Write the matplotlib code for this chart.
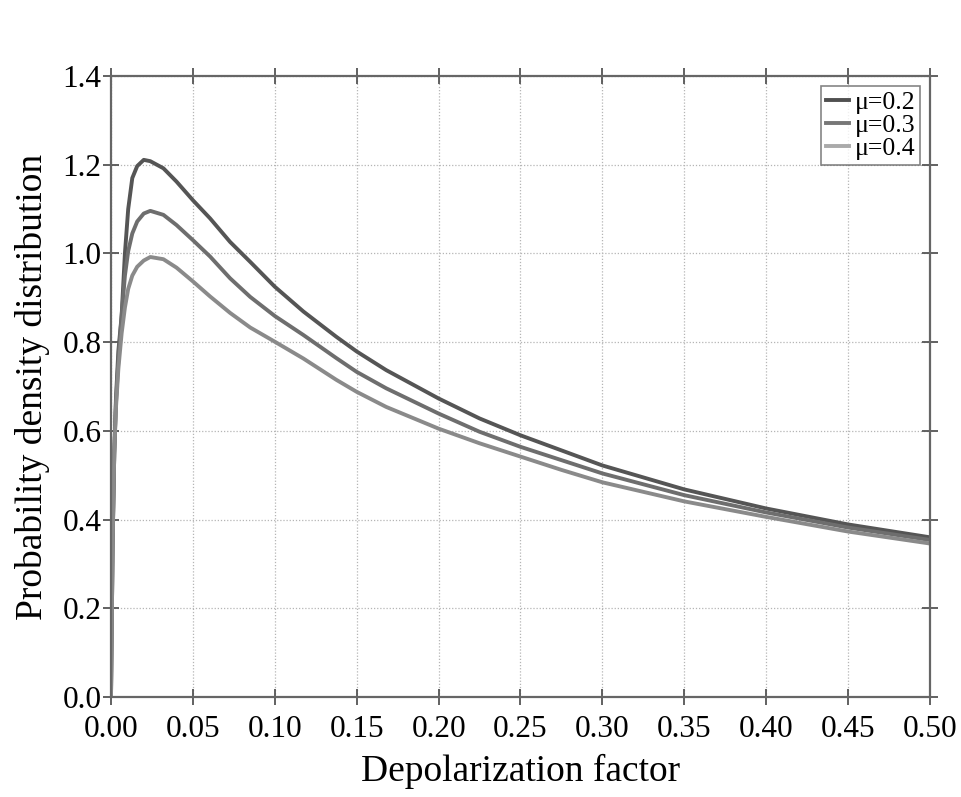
import matplotlib
matplotlib.use("Agg")
import matplotlib.pyplot as plt
from matplotlib.ticker import FormatStrFormatter

# Data
x = [0, 0.001, 0.002, 0.003, 0.0045, 0.0065, 0.0085, 0.0105, 0.013, 0.016,
     0.02, 0.024, 0.032, 0.040, 0.050, 0.0605, 0.0727, 0.085, 0.1, 0.1175,
     0.1376, 0.15, 0.168, 0.2, 0.225, 0.25, 0.275, 0.3, 0.35, 0.4, 0.45, 0.5]
y_mu02 = [0, 0.35, 0.55, 0.67, 0.78, 0.86, 1.00, 1.10, 1.17, 1.197, 1.211,
          1.208, 1.192, 1.162, 1.12, 1.079, 1.026, 0.981, 0.925, 0.869,
          0.812, 0.779, 0.737, 0.673, 0.628, 0.590, 0.556, 0.522, 0.468,
          0.425, 0.389, 0.360]
y_mu03 = [0, 0.35, 0.55, 0.66, 0.76, 0.86, 0.95, 1.005, 1.045, 1.072, 1.09,
          1.096, 1.087, 1.064, 1.030, 0.993, 0.944, 0.902, 0.859, 0.816,
          0.764, 0.733, 0.696, 0.639, 0.598, 0.564, 0.534, 0.504, 0.455,
          0.416, 0.382, 0.354]
y_mu04 = [0, 0.35, 0.55, 0.65, 0.74, 0.82, 0.878, 0.92, 0.95, 0.970, 0.984,
          0.992, 0.987, 0.968, 0.937, 0.903, 0.866, 0.833, 0.801, 0.763,
          0.715, 0.688, 0.654, 0.605, 0.572, 0.542, 0.512, 0.484, 0.441,
          0.406, 0.373, 0.346]
labels = ["\u03bc=0.2", "\u03bc=0.3", "\u03bc=0.4"]
xticks = [0.00, 0.05, 0.10, 0.15, 0.20, 0.25, 0.30, 0.35, 0.40, 0.45, 0.50]
yticks = [0.0, 0.2, 0.4, 0.6, 0.8, 1.0, 1.2, 1.4]

plt.rcParams['font.family'] = ['Liberation Serif', 'DejaVu Serif']

fig = plt.figure(figsize=(9.61, 7.97), dpi=100)
ax = fig.add_axes([0.1155, 0.1255, 0.8522, 0.7791])

colors = ['#555555', '#6e6e6e', '#8a8a8a']
for ys, lab, c in zip([y_mu02, y_mu03, y_mu04], labels, colors):
    ax.plot(x, ys, color=c, lw=2.8, label=lab, solid_joinstyle='round')

ax.set_xlim(0, 0.5)
ax.set_ylim(0, 1.4)
ax.set_xticks(xticks)
ax.set_yticks(yticks)
ax.xaxis.set_major_formatter(FormatStrFormatter('%.2f'))
ax.yaxis.set_major_formatter(FormatStrFormatter('%.1f'))
ax.tick_params(direction='inout', length=12, width=1.3, color='#555555',
               labelsize=22.5, top=True, right=True)
ax.tick_params(axis='x', pad=7)
ax.tick_params(axis='y', pad=1)
ax.grid(True, linestyle=(0, (1, 1.5)), color='#b5b5b5', linewidth=0.9)
for s in ax.spines.values():
    s.set_color('#666666')
    s.set_linewidth(1.6)

ax.set_xlabel('Depolarization factor', fontsize=27, labelpad=7)
ax.set_ylabel('Probability density distribution', fontsize=27, labelpad=9)

leg = ax.legend(loc='upper right', fontsize=18.5, frameon=True, fancybox=False,
                edgecolor='#666666', handlelength=0.9, handletextpad=0.2,
                labelspacing=0.0, borderpad=0.2, borderaxespad=0.38)
leg.get_frame().set_linewidth(1.2)
leg.legend_handles[0].set_color('#505050')
leg.legend_handles[1].set_color('#777777')
leg.legend_handles[2].set_color('#aaaaaa')

fig.savefig('out.png', dpi=100)
